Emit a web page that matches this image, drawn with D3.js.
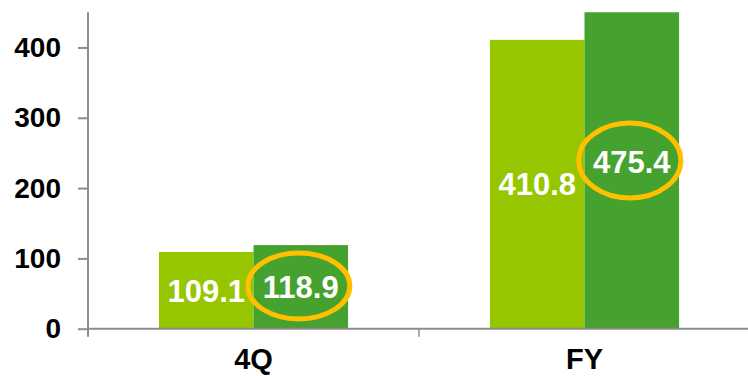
<!DOCTYPE html>
<html>
<head>
<meta charset="utf-8">
<script src="https://cdn.jsdelivr.net/npm/d3@7"></script>
<style>
  html, body { margin: 0; padding: 0; background: #fff; }
  svg { display: block; font-family: "Liberation Sans", Arial, sans-serif; }
</style>
</head>
<body>
<svg id="chart"></svg>
<script>
const categories = ["4Q", "FY"];
const series = ["prev", "curr"];
const prevValues = [109.1, 410.8];
const currValues = [118.9, 475.4];
const yTicks = [0, 100, 200, 300, 400];
const highlighted = ["curr"];

const data = categories.map((c, i) => ({
    category: c,
    values: [
        { key: "prev", value: prevValues[i] },
        { key: "curr", value: currValues[i] }
    ]
}));

const width = 748, height = 376;
const plot = { left: 88, right: 750, top: 12.3, bottom: 328.7 };

const svg = d3.select("#chart")
    .attr("width", width)
    .attr("height", height);

const y = d3.scaleLinear()
    .domain([0, 450])
    .range([plot.bottom, plot.top]);

const x0 = d3.scaleBand()
    .domain(categories)
    .range([plot.left, plot.right])
    .padding(0);

const x1 = d3.scaleBand()
    .domain(series)
    .range([0, x0.bandwidth()])
    .paddingInner(0)
    .paddingOuter(0.75);

const color = d3.scaleOrdinal()
    .domain(series)
    .range(["#96c600", "#46a22e"]);

svg.append("clipPath")
    .attr("id", "plot-clip")
    .append("rect")
    .attr("x", 0)
    .attr("y", plot.top)
    .attr("width", width)
    .attr("height", plot.bottom - plot.top);

// bars
const groups = svg.append("g")
    .attr("clip-path", "url(#plot-clip)")
    .selectAll("g")
    .data(data)
    .enter().append("g")
    .attr("transform", d => `translate(${x0(d.category)},0)`);

groups.selectAll("rect")
    .data(d => d.values)
    .enter().append("rect")
    .attr("x", d => x1(d.key))
    .attr("y", d => y(d.value))
    .attr("width", x1.bandwidth())
    .attr("height", d => plot.bottom - y(d.value))
    .attr("fill", d => color(d.key));

// value labels, centred on the bar value
const labels = svg.append("g")
    .selectAll("g")
    .data(data)
    .enter().append("g")
    .attr("transform", d => `translate(${x0(d.category)},0)`);

labels.selectAll("text")
    .data(d => d.values)
    .enter().append("text")
    .attr("x", d => x1(d.key) + x1.bandwidth() / 2)
    .attr("y", d => y(d.value / 2))
    .attr("dy", "0.36em")
    .attr("text-anchor", "middle")
    .style("font-size", "31px")
    .style("font-weight", "bold")
    .style("fill", "#fff")
    .text(d => d3.format(".1f")(d.value));

// highlight rings
labels.selectAll("ellipse")
    .data(d => d.values.filter(v => highlighted.includes(v.key)))
    .enter().append("ellipse")
    .attr("cx", d => x1(d.key) + x1.bandwidth() / 2 - 2)
    .attr("cy", d => y(d.value / 2) - 1)
    .attr("rx", 51)
    .attr("ry", d => d.value > 300 ? 37.5 : 33)
    .attr("fill", "none")
    .attr("stroke", "#ffc000")
    .attr("stroke-width", 5);

// axes
const axisColor = "#8c8c8c";

const yAxis = svg.append("g")
    .attr("transform", `translate(${plot.left},0)`)
    .call(d3.axisLeft(y).tickValues(yTicks).tickSize(10).tickPadding(17));
yAxis.select(".domain").remove();
yAxis.selectAll("line").attr("stroke", axisColor).attr("stroke-width", 2);
yAxis.selectAll("text")
    .style("font-size", "28px")
    .style("font-weight", "bold")
    .style("fill", "#000")
    .style("font-family", "'Liberation Sans', Arial, sans-serif");

svg.append("line")
    .attr("x1", plot.left).attr("x2", plot.left)
    .attr("y1", plot.top).attr("y2", plot.bottom + 8)
    .attr("stroke", axisColor).attr("stroke-width", 2);

svg.append("line")
    .attr("x1", plot.left).attr("x2", width)
    .attr("y1", plot.bottom).attr("y2", plot.bottom)
    .attr("stroke", axisColor).attr("stroke-width", 2);

const bounds = categories.map(c => x0(c)).concat([x0(categories[categories.length - 1]) + x0.bandwidth()]);
svg.append("g")
    .selectAll("line")
    .data(bounds.slice(1))
    .enter().append("line")
    .attr("x1", d => d).attr("x2", d => d)
    .attr("y1", plot.bottom).attr("y2", plot.bottom + 8)
    .attr("stroke", axisColor).attr("stroke-width", 1.5);

svg.append("g")
    .selectAll("text")
    .data(categories)
    .enter().append("text")
    .attr("x", d => x0(d) + x0.bandwidth() / 2)
    .attr("y", 369)
    .attr("text-anchor", "middle")
    .style("font-size", "29px")
    .style("font-weight", "bold")
    .style("fill", "#000")
    .text(d => d);
</script>
</body>
</html>
